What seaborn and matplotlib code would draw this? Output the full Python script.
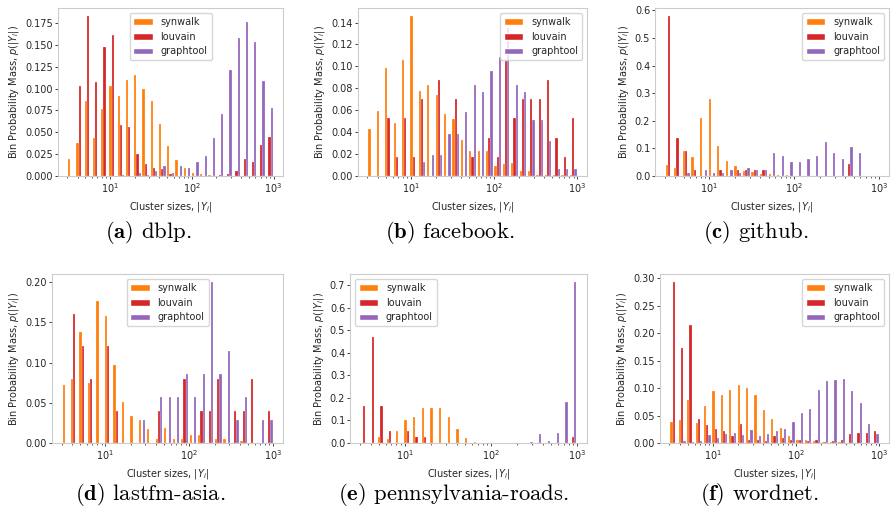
import numpy as np
import pandas as pd
import matplotlib
matplotlib.use("Agg")
import matplotlib.pyplot as plt
import seaborn as sns

# Methods compared in every panel and their colours
METHODS = ["synwalk", "louvain", "graphtool"]
COLORS = ["#ff7f0e", "#d62728", "#9467bd"]

# 25 logarithmic bins of cluster size between 3 and 1000
N_BINS = 25
LOG_MIN, LOG_MAX = np.log10(3), 3.0
BIN_CENTERS = 10 ** (LOG_MIN + (np.arange(N_BINS) + 0.5) * (LOG_MAX - LOG_MIN) / N_BINS)

# Bin probability mass per method, one value per bin
DBLP_SYNWALK = [0.019, 0.0375, 0.086, 0.0435, 0.077, 0.103, 0.091, 0.110, 0.116, 0.100, 0.0855, 0.059, 0.034,
                0.018, 0.0095, 0.004, 0.002, 0.001, 0.0005, 0.0003, 0, 0, 0, 0, 0]
DBLP_LOUVAIN = [0, 0.103, 0.183, 0.107, 0.1475, 0.161, 0.0585, 0.0565, 0.025, 0.0135, 0.0095, 0.0075, 0.002,
                0, 0, 0, 0, 0, 0.0015, 0.002, 0.0055, 0.019, 0.0155, 0.035, 0.0445]
DBLP_GRAPHTOOL = [0, 0, 0, 0, 0, 0, 0.001, 0, 0.003, 0.001, 0.006, 0.011, 0.004, 0.012, 0.009, 0.0165, 0.023,
                  0.043, 0.0705, 0.1215, 0.158, 0.176, 0.153, 0.109, 0.078]

FACEBOOK_SYNWALK = [0.043, 0.059, 0.099, 0.048, 0.106, 0.146, 0.078, 0.083, 0.074, 0.057, 0.052, 0.033, 0.023,
                    0.023, 0.023, 0.0095, 0.011, 0.012, 0.0045, 0.0045, 0.001, 0.001, 0.0005, 0.001, 0.001]
FACEBOOK_LOUVAIN = [0, 0, 0.053, 0.0175, 0.053, 0.0175, 0.070, 0, 0.088, 0, 0.070, 0, 0.0175, 0, 0.035, 0.0175,
                    0.105, 0.053, 0.070, 0.070, 0.070, 0.088, 0.035, 0.0175, 0.053]
FACEBOOK_GRAPHTOOL = [0, 0, 0, 0, 0, 0, 0.013, 0.019, 0.019, 0.038, 0.038, 0.058, 0.083, 0.077, 0.096, 0.109,
                      0.135, 0.083, 0.077, 0.051, 0.051, 0.032, 0.0064, 0.0064, 0.0064]

GITHUB_SYNWALK = [0.04, 0.03, 0.091, 0.07, 0.21, 0.278, 0.11, 0.053, 0.035, 0.018, 0.014, 0.007, 0.006, 0.003,
                  0.002, 0.001, 0.001, 0.001, 0, 0, 0, 0, 0, 0, 0]
GITHUB_LOUVAIN = [0.58, 0.138, 0.091, 0.022, 0, 0, 0.022, 0, 0.022, 0.022, 0.022, 0.022, 0, 0, 0, 0, 0, 0, 0,
                  0, 0, 0.045, 0, 0, 0]
GITHUB_GRAPHTOOL = [0, 0, 0.01, 0, 0.02, 0.01, 0.01, 0.02, 0.01, 0.03, 0.02, 0.02, 0.083, 0.073, 0.052, 0.052,
                    0.063, 0.073, 0.125, 0.083, 0.063, 0.104, 0.083, 0, 0]

LASTFM_SYNWALK = [0.072, 0.080, 0.138, 0.075, 0.177, 0.158, 0.097, 0.051, 0.034, 0.029, 0.017, 0.005, 0.019,
                  0.005, 0.005, 0.010, 0.010, 0, 0.005, 0.005, 0, 0.002, 0, 0, 0]
LASTFM_LOUVAIN = [0, 0.16, 0.12, 0.08, 0, 0.12, 0.04, 0, 0, 0, 0, 0.04, 0, 0, 0.08, 0, 0.04, 0.04, 0.08, 0,
                  0.04, 0.04, 0.08, 0, 0.04]
LASTFM_GRAPHTOOL = [0, 0, 0, 0, 0, 0, 0, 0, 0, 0.029, 0, 0.057, 0.057, 0.057, 0.086, 0.057, 0.086, 0.200,
                    0.086, 0.114, 0.029, 0.057, 0, 0.029, 0.029]

ROADS_SYNWALK = [0, 0, 0.027, 0.018, 0.052, 0.100, 0.115, 0.155, 0.157, 0.157, 0.117, 0.062, 0.020, 0.004,
                 0.001, 0, 0, 0, 0, 0, 0, 0, 0, 0, 0]
ROADS_LOUVAIN = [0.165, 0.47, 0.165, 0.055, 0, 0.055, 0.027, 0.027, 0, 0, 0, 0, 0, 0, 0, 0, 0, 0, 0, 0, 0, 0,
                 0, 0, 0.027]
ROADS_GRAPHTOOL = [0, 0, 0, 0, 0, 0, 0, 0, 0, 0, 0, 0, 0, 0, 0, 0, 0, 0, 0, 0.005, 0.04, 0.009, 0.043, 0.183,
                   0.715]

WORDNET_SYNWALK = [0.038, 0.042, 0.079, 0.037, 0.068, 0.094, 0.087, 0.097, 0.106, 0.100, 0.087, 0.060, 0.043,
                   0.028, 0.013, 0.006, 0.005, 0.003, 0.002, 0.001, 0.001, 0, 0, 0, 0]
WORDNET_LOUVAIN = [0.293, 0.173, 0.214, 0.044, 0.032, 0.025, 0.022, 0.013, 0.035, 0.006, 0.006, 0.003, 0.012,
                   0.009, 0.006, 0.006, 0.003, 0.006, 0.002, 0.003, 0.006, 0.016, 0.019, 0.019, 0.022]
WORDNET_GRAPHTOOL = [0, 0.003, 0.002, 0.003, 0.015, 0.009, 0.017, 0.018, 0.015, 0.024, 0.012, 0.017, 0.022,
                     0.026, 0.039, 0.054, 0.062, 0.097, 0.112, 0.114, 0.116, 0.095, 0.073, 0.034, 0.017]

CAPTIONS = ["dblp.", "facebook.", "github.", "lastfm-asia.", "pennsylvania-roads.", "wordnet."]
LETTERS = ["a", "b", "c", "d", "e", "f"]

PANELS = [
    (DBLP_SYNWALK, DBLP_LOUVAIN, DBLP_GRAPHTOOL),
    (FACEBOOK_SYNWALK, FACEBOOK_LOUVAIN, FACEBOOK_GRAPHTOOL),
    (GITHUB_SYNWALK, GITHUB_LOUVAIN, GITHUB_GRAPHTOOL),
    (LASTFM_SYNWALK, LASTFM_LOUVAIN, LASTFM_GRAPHTOOL),
    (ROADS_SYNWALK, ROADS_LOUVAIN, ROADS_GRAPHTOOL),
    (WORDNET_SYNWALK, WORDNET_LOUVAIN, WORDNET_GRAPHTOOL),
]
LEGEND_LOCS = ["upper center", "upper right", "upper right", "upper center", "upper left", "upper right"]

# Layout in pixels: axes box (left, top, right, bottom) and caption anchor (center x, baseline)
W, H = 892, 511
AXES_BOXES = [(58, 8, 283, 176), (358, 8, 587, 176), (655, 8, 889, 176),
              (52, 274, 283, 443), (350, 274, 587, 443), (660, 274, 889, 443)]
CAPTION_POS = [(148, 238), (450, 238), (756, 238), (150, 500), (453, 500), (759, 500)]

sns.set_theme(style="whitegrid", rc={
    "axes.grid": False,
    "xtick.bottom": True,
    "ytick.left": True,
    "axes.edgecolor": "0.8",
    "axes.linewidth": 0.8,
    "xtick.color": "0.15",
    "ytick.color": "0.15",
    "xtick.major.size": 2.5,
    "ytick.major.size": 2.5,
    "xtick.minor.size": 1.5,
    "xtick.major.width": 0.6,
    "ytick.major.width": 0.6,
    "xtick.minor.width": 0.5,
    "xtick.major.pad": 1.5,
    "ytick.major.pad": 1.0,
    "axes.labelpad": 3.0,
})
plt.rcParams["font.family"] = ["DejaVu Sans"]

fig = plt.figure(figsize=(W / 100, H / 100), dpi=100)

for i, values in enumerate(PANELS):
    left, top, right, bottom = AXES_BOXES[i]
    ax = fig.add_axes([left / W, 1 - bottom / H, (right - left) / W, (bottom - top) / H])

    frame = pd.DataFrame({
        "size": np.tile(BIN_CENTERS, len(METHODS)),
        "method": np.repeat(METHODS, N_BINS),
        "mass": np.concatenate([np.asarray(v, dtype=float) for v in values]),
    })
    sns.histplot(data=frame, x="size", hue="method", weights="mass",
                 hue_order=METHODS, palette=COLORS,
                 bins=N_BINS, binrange=(LOG_MIN, LOG_MAX), log_scale=True,
                 multiple="dodge", shrink=0.8, stat="count", common_norm=False,
                 alpha=1.0, ax=ax)

    ax.set_xlabel(r"Cluster sizes, $|Y_i|$", fontsize=7)
    ax.set_ylabel(r"Bin Probability Mass, $p(|Y_i|)$", fontsize=7)
    ax.tick_params(axis="both", which="both", labelsize=7, direction="out")
    for spine in ax.spines.values():
        spine.set_visible(True)

    sns.move_legend(ax, LEGEND_LOCS[i], title=None, fontsize=7, frameon=True)

    cx, cy = CAPTION_POS[i]
    fig.text(cx / W, 1 - cy / H, rf"$\mathbf{{({LETTERS[i]})}}$ {CAPTIONS[i]}",
             fontsize=16.3, family="cmr10", math_fontfamily="cm",
             ha="center", va="baseline", color="black")

fig.savefig("out.png", dpi=100)
